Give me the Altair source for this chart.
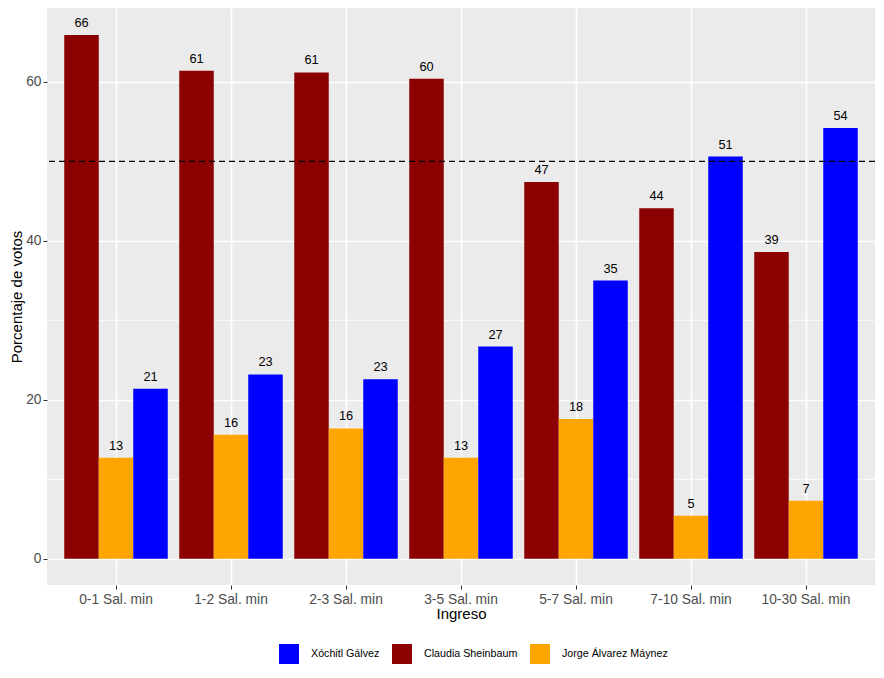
import altair as alt
import pandas as pd

categories = ["0-1 Sal. min", "1-2 Sal. min", "2-3 Sal. min", "3-5 Sal. min",
              "5-7 Sal. min", "7-10 Sal. min", "10-30 Sal. min"]
candidates = ["Xóchitl Gálvez", "Claudia Sheinbaum", "Jorge Álvarez Máynez"]
bar_order = ["Claudia Sheinbaum", "Jorge Álvarez Máynez", "Xóchitl Gálvez"]
colors = ["#0000FF", "#8B0000", "#FFA500"]

claudia = [65.9, 61.4, 61.2, 60.4, 47.4, 44.1, 38.6]
jorge = [12.7, 15.6, 16.4, 12.7, 17.6, 5.4, 7.3]
xochitl = [21.4, 23.2, 22.6, 26.7, 35.0, 50.6, 54.2]

major_ticks = [0, 20, 40, 60]
minor_ticks = [10, 30, 50]
reference_line = [50]

rows = []
for name, vals in [("Claudia Sheinbaum", claudia), ("Jorge Álvarez Máynez", jorge), ("Xóchitl Gálvez", xochitl)]:
    for c, v in zip(categories, vals):
        rows.append({"Ingreso": c, "Candidato": name, "valor": v})
df = pd.DataFrame(rows)

FONT = "Liberation Sans"
ydomain = [-3.3, 69.3]

yscale = alt.Scale(domain=ydomain, nice=False, zero=False)
xscale = alt.Scale(paddingInner=0.1, paddingOuter=0.15)

base = alt.Chart(df).encode(
    x=alt.X("Ingreso:N", sort=categories, scale=xscale,
            axis=alt.Axis(title="Ingreso", labelAngle=0, grid=True)),
    xOffset=alt.XOffset("Candidato:N", sort=bar_order, scale=alt.Scale(paddingInner=0, paddingOuter=0)),
)

bars = base.mark_bar(strokeWidth=0).encode(
    y=alt.Y("valor:Q", scale=yscale,
            axis=alt.Axis(title="Porcentaje de votos", values=major_ticks)),
    color=alt.Color("Candidato:N",
                    scale=alt.Scale(domain=candidates, range=colors),
                    legend=alt.Legend(title=None, orient="none", direction="horizontal",
                                      legendX=232, legendY=636,
                                      symbolType="square", symbolSize=400,
                                      symbolStrokeWidth=0, symbolOpacity=1,
                                      labelFontSize=10.7, labelFont=FONT, labelColor="#000000",
                                      labelOffset=12, columnPadding=12)),
)

labels = base.mark_text(baseline="bottom", dy=-5, fontSize=12.8, font=FONT, color="#000000").encode(
    y=alt.Y("valor:Q", scale=yscale),
    text=alt.Text("valor:Q", format=".0f"),
)

minor_df = pd.DataFrame({"v": minor_ticks})
minor = alt.Chart(minor_df).mark_rule(color="white", strokeWidth=0.8).encode(
    y=alt.Y("v:Q", scale=yscale)
)

ref_df = pd.DataFrame({"v": reference_line})
ref = alt.Chart(ref_df).mark_rule(color="black", strokeWidth=1.2, strokeDash=[6, 4]).encode(
    y=alt.Y("v:Q", scale=yscale)
)

chart = alt.layer(minor, bars, labels, ref).properties(
    width=828, height=577,
    autosize=alt.AutoSizeParams(type="none"),
    padding={"left": 39, "top": 0, "right": 1, "bottom": 86},
).configure_view(
    fill="#EBEBEB", stroke=None
).configure_axis(
    gridColor="white", gridWidth=1.6, domain=False,
    tickColor="#333333", tickSize=4, tickWidth=1,
    labelColor="#4D4D4D", labelFont=FONT, labelFontSize=13.8, labelPadding=2,
    titleColor="#000000", titleFont=FONT, titleFontSize=15, titleFontWeight="normal",
).configure_axisY(
    titlePadding=1
).configure_axisX(
    titlePadding=1, labelPadding=3
)

chart.save("out.html", embed_options={"renderer": "svg", "actions": False})
